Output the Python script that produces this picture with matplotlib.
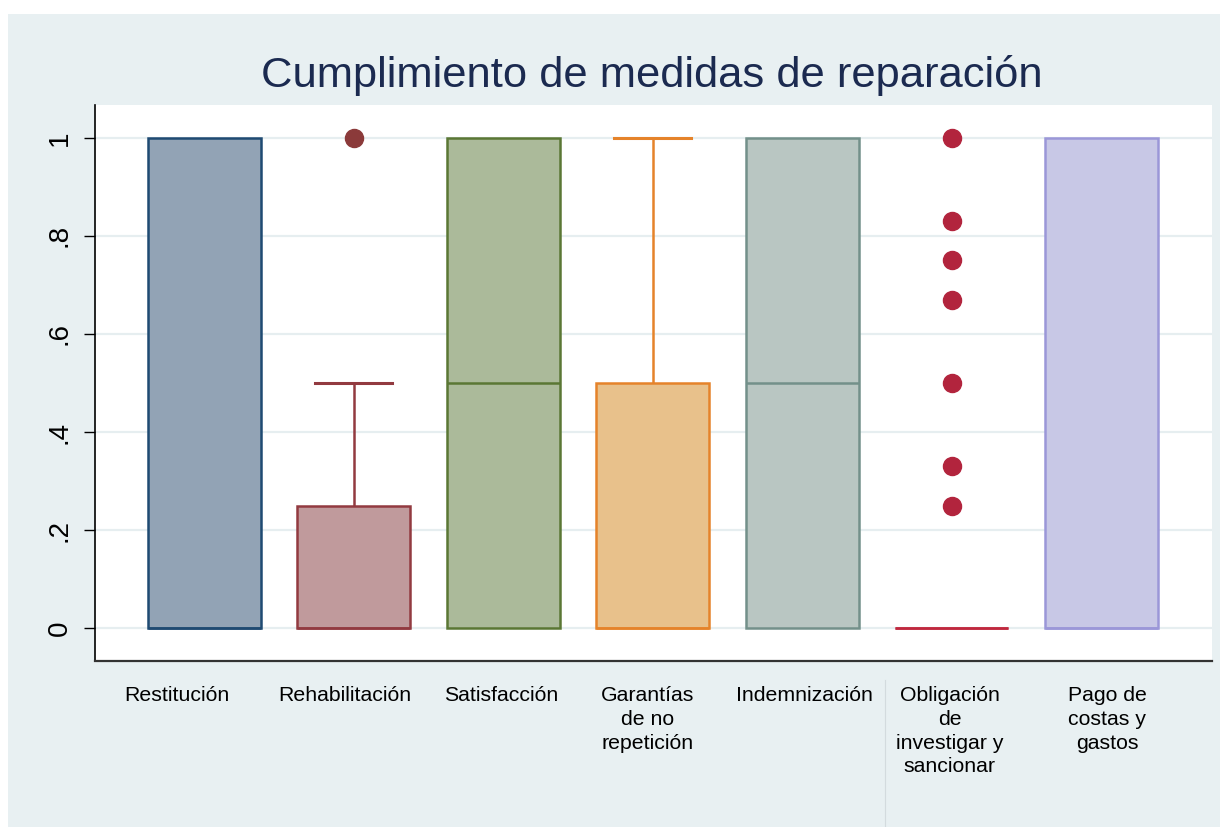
import matplotlib.pyplot as plt
import matplotlib.transforms as mtransforms
from matplotlib.patches import Rectangle
from matplotlib.lines import Line2D

plt.rcParams['font.family'] = ['Liberation Sans', 'DejaVu Sans']

# box statistics
labels = ["Restitución", "Rehabilitación", "Satisfacción", "Garantías\nde no\nrepetición",
          "Indemnización", "Obligación\nde\ninvestigar y\nsancionar", "Pago de\ncostas y\ngastos"]
q1 = [0, 0, 0, 0, 0, 0, 0]
med = [0, 0, 0.5, 0, 0.5, 0, 0]
q3 = [1, 0.25, 1, 0.5, 1, 0, 1]
whislo = [0, 0, 0, 0, 0, 0, 0]
whishi = [1, 0.5, 1, 1, 1, 0, 1]
fliers = [[], [1.0], [], [], [], [1.0, 0.83, 0.75, 0.67, 0.5, 0.33, 0.25], []]

face_colors = ["#92a3b5", "#c09a9c", "#abba9a", "#e8c18b", "#b9c6c2", "#ffffff", "#c8c8e6"]
edge_colors = ["#1f4a72", "#923a40", "#5a7734", "#e5832a", "#73908a", "#c0283e", "#9b97d8"]
flier_colors = ["#8b3a3a", "#8b3a3a", "#8b3a3a", "#8b3a3a", "#8b3a3a", "#b2243d", "#8b3a3a"]
# label nudges in pixels (the original labels are not quite centred)
label_dx = [-27, -9, -2, -5, 2, -2, 6]

bg = "#e8f0f2"

fig = plt.figure(figsize=(12.2, 8.27), dpi=100, facecolor="white")
fig.patches.append(Rectangle((8 / 1220, 0), 1 - 8 / 1220, 1 - 14 / 827,
                             transform=fig.transFigure, facecolor=bg, edgecolor="none", zorder=-10))
fig.add_artist(Line2D([885 / 1220, 885 / 1220], [0, 1 - 680 / 827],
                      transform=fig.transFigure, color="#d3dbde", lw=0.8))

ax = fig.add_axes([95 / 1220, 1 - 661 / 827, (1212 - 95) / 1220, (661 - 105) / 827])
ax.set_facecolor("white")

stats = []
for i in range(len(labels)):
    stats.append(dict(q1=q1[i], med=med[i], q3=q3[i], whislo=whislo[i],
                      whishi=whishi[i], fliers=fliers[i], label=labels[i]))

pos = list(range(1, len(labels) + 1))
res = ax.bxp(stats, positions=pos, widths=0.756, capwidths=0.51, patch_artist=True,
             showfliers=True, manage_ticks=False)

for i, box in enumerate(res['boxes']):
    box.set_facecolor(face_colors[i])
    box.set_edgecolor(edge_colors[i])
    box.set_linewidth(1.8)
    box.set_zorder(3)
    res['medians'][i].set_color(edge_colors[i])
    res['medians'][i].set_linewidth(1.8)
    res['medians'][i].set_zorder(4)
    for w in res['whiskers'][2 * i:2 * i + 2]:
        w.set_color(edge_colors[i])
        w.set_linewidth(1.8)
    for j, c in enumerate(res['caps'][2 * i:2 * i + 2]):
        c.set_color(edge_colors[i])
        c.set_linewidth(2.2)
        if (j == 0 and whislo[i] == q1[i]) or (j == 1 and whishi[i] == q3[i]):
            c.set_visible(False)
    f = res['fliers'][i]
    f.set_marker("o")
    f.set_markerfacecolor(flier_colors[i])
    f.set_markeredgecolor(flier_colors[i])
    f.set_markersize(13)
    f.set_zorder(5)

ax.set_xlim(0.27, 7.742)
ax.set_ylim(-0.067, 1.067)
yt = [0, 0.2, 0.4, 0.6, 0.8, 1]
ax.set_yticks(yt)
ax.set_yticklabels(["0", ".2", ".4", ".6", ".8", "1"], rotation=90, va="center", fontsize=20)
ax.tick_params(axis="y", length=8, width=1, pad=8, color="black")
ax.set_xticks([])

xtrans = ax.get_xaxis_transform()
for i, lab in enumerate(labels):
    off = mtransforms.ScaledTranslation(label_dx[i] / 100, -25 / 100, fig.dpi_scale_trans)
    ax.text(pos[i], 0, lab, transform=xtrans + off, ha="center", va="top",
            fontsize=15.3, linespacing=1.32, multialignment="center", clip_on=False)

ax.grid(axis="y", color="#e6eef0", lw=1.6, zorder=0)
ax.set_axisbelow(True)

for s in ["top", "right"]:
    ax.spines[s].set_visible(False)
ax.spines["left"].set_color("black")
ax.spines["bottom"].set_color("#333333")
ax.spines["left"].set_linewidth(1.2)
ax.spines["bottom"].set_linewidth(1.6)

fig.text(652 / 1220, 1 - 76 / 827, "Cumplimiento de medidas de reparación",
         ha="center", va="center", fontsize=31.3, color="#1b2a50")

fig.savefig("out.png", dpi=100, facecolor=fig.get_facecolor())
